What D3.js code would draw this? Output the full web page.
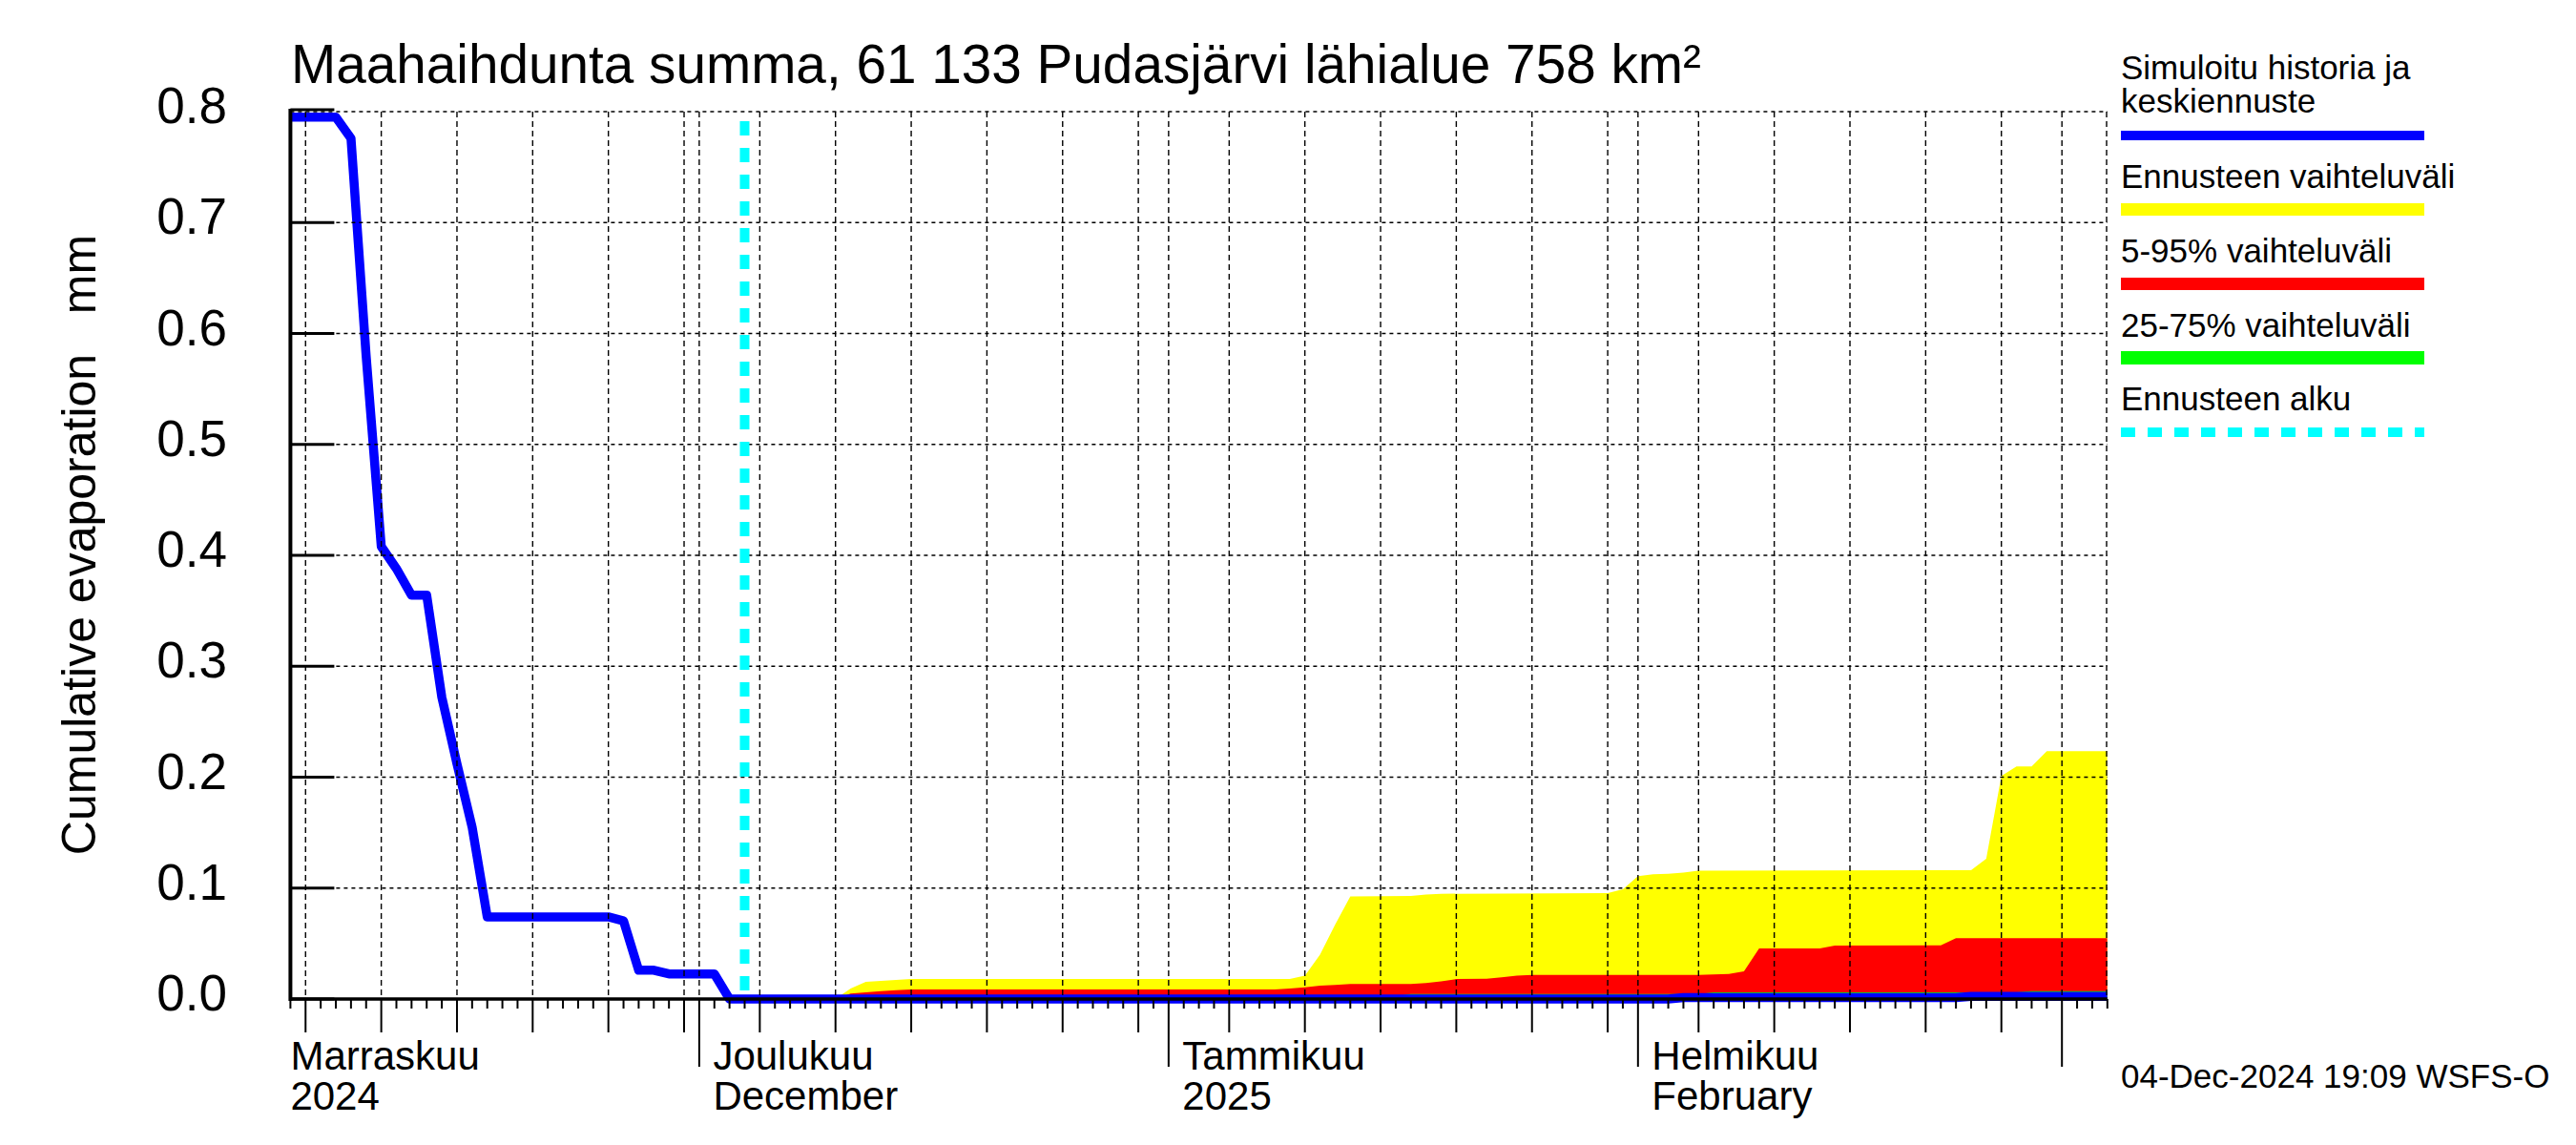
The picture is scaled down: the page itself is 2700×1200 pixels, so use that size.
<!DOCTYPE html>
<html><head><meta charset="utf-8">
<script src="https://cdn.jsdelivr.net/npm/d3@7"></script>
<style>
html,body{margin:0;padding:0;background:#fff;}
svg{display:block;font-family:"Liberation Sans",Arial,Helvetica,sans-serif;}
</style></head><body>
<svg id="chart" width="2700" height="1200"></svg>
<script>
// ---------------- DATA ----------------
const titleText = "Maahaihdunta summa, 61 133 Pudasjärvi lähialue 758 km²";
const yAxisLabel = "Cumulative evaporation   mm";
const timestampText = "04-Dec-2024 19:09 WSFS-O";
const xDomain = ["2024-11-04", "2025-03-04"];
const forecastStart = "2024-12-04";
const yTicks = [0.0, 0.1, 0.2, 0.3, 0.4, 0.5, 0.6, 0.7, 0.8];
const monthLabels = [
  ["2024-11-01", "Marraskuu", "2024"],
  ["2024-12-01", "Joulukuu", "December"],
  ["2025-01-01", "Tammikuu", "2025"],
  ["2025-02-01", "Helmikuu", "February"]
];
const gridDaysOfMonth = [1, 5, 10, 15, 20, 25, 30];

// simulated history (cumulative evaporation, mm)
const simHistory = [
  ["2024-11-04",0.795],["2024-11-05",0.795],["2024-11-06",0.795],["2024-11-07",0.795],
  ["2024-11-08",0.776],["2024-11-09",0.58],["2024-11-10",0.408],["2024-11-11",0.388],
  ["2024-11-12",0.364],["2024-11-13",0.364],["2024-11-14",0.272],["2024-11-15",0.212],
  ["2024-11-16",0.155],["2024-11-17",0.074],["2024-11-18",0.074],["2024-11-19",0.074],
  ["2024-11-20",0.074],["2024-11-21",0.074],["2024-11-22",0.074],["2024-11-23",0.074],
  ["2024-11-24",0.074],["2024-11-25",0.074],["2024-11-26",0.0705],["2024-11-27",0.026],
  ["2024-11-28",0.026],["2024-11-29",0.0226],["2024-11-30",0.0226],["2024-12-01",0.0226],
  ["2024-12-02",0.0226],["2024-12-03",0.0],["2024-12-04",0.0]
];
// median forecast
const medianForecast = [
  ["2024-12-04",0],["2025-02-03",0],["2025-02-04",0.0013],["2025-02-22",0.0013],
  ["2025-02-23",0.0023],["2025-03-04",0.0023]
];
// forecast range (max)
const rangeMax = [
  ["2024-12-04",0],["2024-12-10",0],["2024-12-11",0.0095],["2024-12-12",0.0155],
  ["2024-12-13",0.0163],["2024-12-14",0.0172],["2024-12-15",0.018],["2025-01-09",0.018],
  ["2025-01-10",0.021],["2025-01-11",0.04],["2025-01-12",0.067],["2025-01-13",0.0925],
  ["2025-01-17",0.0929],["2025-01-18",0.0943],["2025-01-19",0.0949],["2025-01-30",0.0955],
  ["2025-01-31",0.099],["2025-02-01",0.1107],["2025-02-02",0.1124],["2025-02-03",0.113],
  ["2025-02-04",0.114],["2025-02-05",0.1158],["2025-02-23",0.1162],["2025-02-24",0.1264],
  ["2025-02-25",0.201],["2025-02-26",0.2096],["2025-02-27",0.2096],["2025-02-28",0.2234],
  ["2025-03-04",0.2234]
];
// 5-95 % range (upper)
const range5_95 = [
  ["2024-12-04",0],["2024-12-10",0],["2024-12-11",0.005],["2024-12-12",0.006],
  ["2024-12-13",0.0072],["2024-12-14",0.008],["2024-12-15",0.0086],["2025-01-08",0.0086],
  ["2025-01-09",0.0095],["2025-01-10",0.0106],["2025-01-11",0.012],["2025-01-12",0.0126],
  ["2025-01-13",0.0135],["2025-01-17",0.0135],["2025-01-18",0.0145],["2025-01-19",0.016],
  ["2025-01-20",0.018],["2025-01-22",0.0183],["2025-01-23",0.0195],["2025-01-24",0.021],
  ["2025-01-25",0.0218],["2025-02-05",0.0218],["2025-02-07",0.0225],["2025-02-08",0.025],
  ["2025-02-09",0.0456],["2025-02-13",0.0456],["2025-02-14",0.0482],["2025-02-21",0.0484],
  ["2025-02-22",0.0548],["2025-03-04",0.0548]
];
// 25-75 % range (upper)
const range25_75 = [
  ["2024-12-04",0],["2024-12-15",0.002],["2025-01-16",0.0025],["2025-01-17",0.0046],
  ["2025-02-05",0.0046],["2025-02-06",0.006],["2025-02-26",0.006],["2025-02-27",0.007],
  ["2025-03-04",0.007]
];
const legendItems = [
  {lines:["Simuloitu historia ja","keskiennuste"], color:"#0000ff", dash:null},
  {lines:["Ennusteen vaihteluväli"], color:"#ffff00", dash:null},
  {lines:["5-95% vaihteluväli"], color:"#ff0000", dash:null},
  {lines:["25-75% vaihteluväli"], color:"#00ff00", dash:null},
  {lines:["Ennusteen alku"], color:"#00ffff", dash:"15,13"}
];

// ---------------- LAYOUT ----------------
const L = 304.4, R = 2208.8, T = 117, B = 1047;
const parse = d3.utcParse("%Y-%m-%d");
const svg = d3.select("#chart");
const x = d3.scaleUtc().domain(xDomain.map(parse)).range([L, R]);
const y = d3.scaleLinear().domain([0, 0.8]).range([B, T]);
const toPts = arr => arr.map(d => ({date: parse(d[0]), v: d[1]}));

svg.append("rect").attr("width",2700).attr("height",1200).attr("fill","#fff");
svg.append("defs").append("clipPath").attr("id","clip")
  .append("rect").attr("x",L).attr("y",T-10).attr("width",R-L).attr("height",B-T+20);

const plot = svg.append("g").attr("clip-path","url(#clip)");

// bands
const area = d3.area().x(d => x(d.date)).y0(y(0)).y1(d => y(d.v));
[[rangeMax,"#ffff00"],[range5_95,"#ff0000"],[range25_75,"#00ff00"]].forEach(([arr,c]) => {
  plot.append("path").datum(toPts(arr)).attr("d", area).attr("fill", c);
});

// grid
const days = d3.utcDay.range(x.domain()[0], d3.utcDay.offset(x.domain()[1], 1));
const gridDays = days.filter(d => gridDaysOfMonth.includes(d.getUTCDate()) && x(d) > L + 1);
const grid = svg.append("g").attr("stroke","#000").attr("stroke-width",1.4).attr("fill","none");
gridDays.forEach(d => {
  grid.append("line").attr("x1",x(d)).attr("x2",x(d)).attr("y1",T).attr("y2",B)
    .attr("stroke-dasharray","6,4");
});
grid.append("line").attr("x1",R-0.8).attr("x2",R-0.8).attr("y1",T).attr("y2",B).attr("stroke-dasharray","6,4");
yTicks.filter(v => v > 0).forEach(v => {
  grid.append("line").attr("x1",L).attr("x2",R).attr("y1",y(v)).attr("y2",y(v))
    .attr("stroke-dasharray","4,4");
});

// x ticks
const xt = svg.append("g").attr("stroke","#000").attr("stroke-width",2);
days.forEach(d => {
  const dd = d.getUTCDate();
  const len = dd === 1 ? 71 : ([5,10,15,20,25,30].includes(dd) ? 35 : 10);
  xt.append("line").attr("x1",x(d)).attr("x2",x(d)).attr("y1",B).attr("y2",B+len);
});

// axes lines
svg.append("line").attr("x1",L).attr("x2",R).attr("y1",B).attr("y2",B)
  .attr("stroke","#000").attr("stroke-width",3.5);
svg.append("line").attr("x1",L).attr("x2",L).attr("y1",T-3).attr("y2",B+2)
  .attr("stroke","#000").attr("stroke-width",4);

// y ticks + labels
yTicks.forEach(v => {
  const off = v === 0.8 ? -2 : 0;
  svg.append("line").attr("x1",L).attr("x2",L+46).attr("y1",y(v)+off).attr("y2",y(v)+off)
    .attr("stroke","#000").attr("stroke-width",3);
  svg.append("text").attr("x",238).attr("y",y(v)+12).attr("text-anchor","end")
    .attr("font-size",53).text(v.toFixed(1));
});

// forecast start line
svg.append("line").attr("x1",x(parse(forecastStart))).attr("x2",x(parse(forecastStart)))
  .attr("y1",127).attr("y2",B).attr("stroke","#00ffff").attr("stroke-width",10)
  .attr("stroke-dasharray","15,13");

// simulated history + median line
const line = d3.line().x(d => x(d.date)).y(d => y(d.v));
plot.append("path").datum(toPts(simHistory.concat(medianForecast.slice(1))))
  .attr("d", line).attr("fill","none").attr("stroke","#0000ff")
  .attr("stroke-width",9.5).attr("stroke-linejoin","round");

// month labels
monthLabels.forEach(([ds, l1, l2]) => {
  const xx = Math.max(x(parse(ds)) + 14.5, L);
  svg.append("text").attr("x",xx).attr("y",1121).attr("font-size",42).text(l1);
  svg.append("text").attr("x",xx).attr("y",1163).attr("font-size",42).text(l2);
});

// title
svg.append("text").attr("x",305).attr("y",87).attr("font-size",56.7).text(titleText);

// y label
svg.append("text").attr("transform","translate(100,571) rotate(-90)")
  .attr("text-anchor","middle").attr("font-size",50).style("white-space","pre").text(yAxisLabel);

// legend
const legendY = [[83,118],[197],[275],[353],[430]];
const barY = [142, 219.5, 297.5, 375, 453];
const barW = [10, 13, 13, 14, 10];
legendItems.forEach((it, i) => {
  it.lines.forEach((t, j) => {
    svg.append("text").attr("x",2223).attr("y",legendY[i][j]).attr("font-size",35).text(t);
  });
  const ln = svg.append("line").attr("x1",2223).attr("x2",2541).attr("y1",barY[i]).attr("y2",barY[i])
    .attr("stroke",it.color).attr("stroke-width",barW[i]);
  if (it.dash) ln.attr("stroke-dasharray", it.dash);
});

// timestamp
svg.append("text").attr("x",2223).attr("y",1140).attr("font-size",35).text(timestampText);
</script>
</body></html>
